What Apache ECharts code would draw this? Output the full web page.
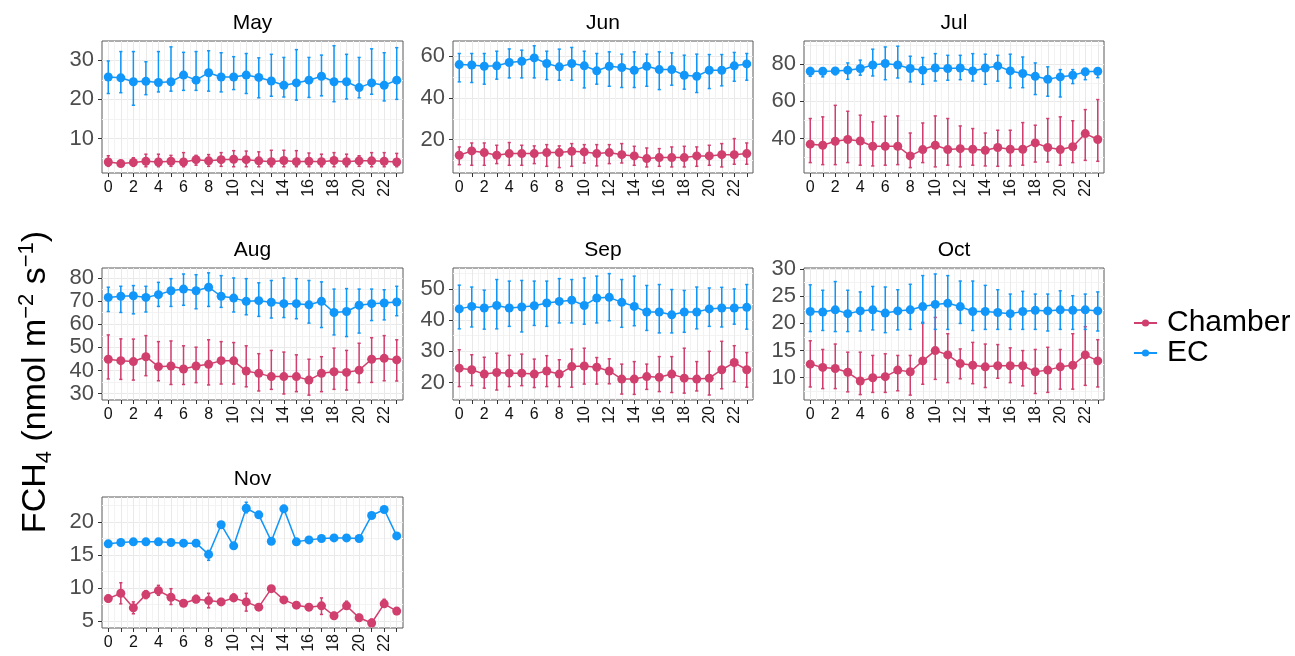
<!DOCTYPE html>
<html>
<head>
<meta charset="utf-8">
<title>FCH4 diel cycle by month</title>
<script src="https://cdn.jsdelivr.net/npm/echarts@6/dist/echarts.min.js"></script>
<style>
  html, body { margin: 0; padding: 0; background: #fff; }
  #chart { width: 1295px; height: 656px; }
</style>
</head>
<body>
<div id="chart"></div>
<script>
// hours of the day and the month panels
const hours = [0,1,2,3,4,5,6,7,8,9,10,11,12,13,14,15,16,17,18,19,20,21,22,23];
const months = ['May','Jun','Jul','Aug','Sep','Oct','Nov'];
const hourLabelsFlat = [0,2,4,6,8];
const hourLabelsTurned = [10,12,14,16,18,20,22];

// y tick labels per panel
const mayTicks = [10,20,30];
const junTicks = [20,40,60];
const julTicks = [40,60,80];
const augTicks = [30,40,50,60,70,80];
const sepTicks = [20,30,40,50];
const octTicks = [10,15,20,25,30];
const novTicks = [5,10,15,20];

// May
const mayChamber   = [4.0,3.6,3.9,4.2,4.0,4.2,4.0,4.6,4.3,4.6,4.7,4.6,4.3,4.1,4.4,4.1,4.2,4.1,4.4,4.1,4.3,4.3,4.2,4.0];
const mayChamberLo = [2.9,3.2,2.9,2.8,2.8,2.9,2.8,3.2,2.9,2.9,2.8,2.8,2.8,2.8,2.8,2.8,2.8,2.8,2.8,2.8,2.9,2.8,2.8,2.8];
const mayChamberHi = [5.6,4.1,5.1,6.0,6.0,5.7,6.4,5.7,5.9,6.4,6.9,6.8,6.6,7.0,7.0,6.9,6.3,6.0,6.4,6.0,5.6,6.4,6.4,6.2];
const mayEC   = [25.7,25.5,24.5,24.6,24.3,24.5,26.2,24.9,26.8,25.7,25.7,26.2,25.6,24.7,23.6,24.2,24.9,25.9,24.5,24.5,23.0,24.2,23.6,24.9];
const mayECLo = [21.5,21.7,18.5,21.2,21.9,22.1,22.3,22.3,22.1,21.9,22.5,21.5,20.4,20.8,20.6,19.8,20.5,20.9,19.4,20.1,20.4,21.3,19.6,20.0];
const mayECHi = [29.8,32.2,32.2,29.6,32.2,33.4,32.0,32.2,32.4,31.9,30.9,31.7,30.6,31.5,30.7,32.7,30.7,31.3,33.7,31.5,30.7,32.9,31.9,33.2];

// Jun
const junChamber   = [12.5,14.6,13.8,12.5,13.3,13.3,13.3,13.8,13.8,14.4,14.1,13.3,13.8,12.8,12.2,10.9,11.4,11.4,11.4,12.2,12.2,12.8,12.8,13.3];
const junChamberLo = [8.0,7.7,7.7,8.5,7.7,7.7,8.5,7.2,6.6,7.2,8.8,7.4,8.5,8.8,7.7,6.9,7.2,6.9,6.9,7.2,7.7,6.9,8.2,8.2];
const junChamberHi = [16.5,18.4,18.4,17.3,18.6,17.3,17.0,17.6,17.0,18.1,17.6,17.6,17.6,18.1,16.8,16.0,15.7,16.5,16.8,16.5,17.3,18.1,20.5,18.4];
const junEC   = [56.0,55.8,55.2,55.4,57.0,57.6,59.2,56.5,54.9,56.5,55.4,53.0,55.2,54.6,53.3,55.2,53.6,53.6,50.9,50.4,53.3,53.3,55.4,56.3];
const junECLo = [47.7,47.4,46.6,49.0,49.6,49.6,49.6,48.8,48.5,48.5,44.8,46.6,45.6,45.0,45.0,45.6,44.0,46.1,44.2,42.6,44.5,45.8,48.0,48.5];
const junECHi = [61.3,61.3,61.3,62.4,63.5,62.9,65.0,62.4,63.4,64.2,62.4,61.3,62.1,61.0,62.1,61.0,62.1,61.6,60.5,61.0,60.8,60.8,61.8,61.3];

// Jul
const julChamber   = [37.0,36.4,38.6,39.5,38.7,35.9,35.9,35.9,30.7,34.1,36.4,34.1,34.6,34.3,33.7,35.2,34.3,34.3,37.7,35.2,34.1,35.6,42.7,39.5];
const julChamberLo = [27.1,26.0,26.0,27.1,25.7,25.3,25.7,26.0,24.4,27.1,24.8,25.7,24.8,25.7,25.3,25.1,25.3,25.7,27.4,27.4,25.7,27.1,28.3,27.8];
const julChamberHi = [50.8,51.7,57.9,54.7,52.6,49.0,52.0,52.2,43.0,48.4,52.2,50.8,46.8,45.4,43.0,44.5,44.5,48.6,47.2,50.8,51.7,49.6,55.6,61.0];
const julEC   = [76.2,76.2,76.4,76.8,77.7,79.6,80.4,79.6,77.7,76.8,78.0,77.7,78.0,76.4,78.0,79.1,76.4,75.0,73.5,71.9,73.2,74.1,75.9,76.2];
const julECLo = [73.5,73.2,74.4,71.9,74.1,73.7,71.7,72.6,70.5,69.2,71.0,71.4,71.7,71.0,69.2,70.9,67.3,67.4,63.7,62.8,62.4,69.6,71.7,72.8];
const julECHi = [78.2,77.7,78.0,80.7,82.2,88.1,89.3,89.7,84.3,83.6,85.7,84.8,84.8,85.7,85.4,84.8,85.4,83.9,80.7,78.6,77.1,77.1,77.3,77.7];

// Aug
const augChamber   = [44.9,44.3,43.9,46.0,41.7,42.0,40.7,42.0,42.7,44.3,44.2,39.8,38.8,37.4,37.4,37.4,35.9,38.8,39.5,39.2,40.2,44.9,45.3,44.6];
const augChamberLo = [36.4,36.2,35.9,37.8,35.6,34.0,34.0,34.8,33.8,34.2,34.2,33.0,31.2,31.9,29.9,30.9,29.4,30.9,31.9,31.6,34.8,34.9,35.6,35.5];
const augChamberHi = [55.4,53.7,53.6,55.1,52.5,52.8,50.7,50.1,53.3,52.5,52.1,50.7,47.3,48.7,48.0,46.8,44.9,46.0,49.7,48.7,51.8,54.2,55.1,53.3];
const augEC   = [71.6,72.1,72.3,71.6,72.8,74.5,75.2,74.5,76.0,72.1,71.3,69.9,70.2,69.5,68.9,68.9,68.4,69.9,65.1,65.5,68.2,68.9,69.2,69.6];
const augECLo = [65.5,65.1,64.5,65.3,67.7,67.7,68.2,66.7,67.7,67.3,65.3,64.1,63.4,62.7,62.9,62.4,60.5,58.6,55.4,54.7,56.2,61.6,61.9,63.7];
const augECHi = [76.0,76.4,76.7,76.4,78.1,79.7,81.7,81.4,82.2,81.0,80.0,79.7,77.9,78.9,80.0,79.7,78.9,78.3,75.2,75.4,75.2,75.2,74.9,76.4];

// Sep
const sepChamber   = [24.6,24.1,22.7,23.2,23.0,23.0,22.7,23.7,22.7,25.1,25.3,24.9,23.7,21.1,21.1,21.9,21.7,22.7,21.4,21.1,21.4,24.1,26.4,24.1];
const sepChamberLo = [18.7,19.0,18.2,17.6,18.7,19.0,18.4,18.7,18.7,18.5,19.5,19.5,19.6,16.3,16.2,17.8,17.1,16.8,16.6,17.3,16.0,18.0,20.3,18.5];
const sepChamberHi = [30.5,28.9,28.1,29.4,28.7,29.1,27.5,28.6,27.3,30.7,31.0,28.0,27.6,25.9,26.7,25.9,28.3,28.3,31.0,26.7,30.0,33.2,31.8,29.6];
const sepEC   = [43.6,44.4,43.9,44.7,43.9,44.2,44.6,45.5,46.0,46.4,44.7,47.1,47.3,45.7,44.4,42.6,42.6,41.7,42.6,42.6,43.6,43.9,43.9,44.1];
const sepECLo = [37.2,37.8,37.1,37.2,38.0,36.2,38.3,38.0,39.1,39.1,38.7,39.1,39.8,37.7,38.2,36.7,35.9,35.9,36.1,37.2,38.0,37.8,38.7,37.1];
const sepECHi = [51.2,50.6,49.6,53.0,52.5,52.7,52.5,52.5,53.3,53.0,53.5,54.1,54.9,53.0,54.1,51.1,51.4,49.8,49.5,50.6,50.3,50.5,50.0,51.4];

// Oct
const octChamber   = [12.5,11.9,11.7,11.0,9.4,10.0,10.2,11.4,11.1,13.1,15.0,14.2,12.6,12.3,12.0,12.2,12.2,12.2,11.1,11.4,12.0,12.3,14.2,13.1];
const octChamberLo = [8.3,8.0,8.0,7.4,6.9,7.3,7.3,7.6,6.8,8.8,9.7,9.1,9.8,8.9,8.2,9.9,9.1,8.5,7.1,7.3,7.9,7.9,8.6,8.3];
const octChamberHi = [16.8,15.2,16.2,14.7,14.7,14.1,14.4,14.1,14.1,20.2,21.1,18.1,15.3,16.5,16.2,16.1,15.5,15.0,15.2,15.6,15.2,18.1,19.4,17.0];
const octEC   = [22.2,22.1,22.5,21.8,22.3,22.5,21.9,22.3,22.5,23.1,23.5,23.7,23.1,22.2,22.2,22.0,21.8,22.2,22.4,22.3,22.5,22.4,22.5,22.3];
const octECLo = [18.5,18.7,18.5,18.5,18.6,18.8,18.3,18.8,18.9,20.0,18.9,18.9,20.0,18.7,18.9,18.9,18.9,18.9,18.9,18.6,18.9,18.9,18.9,18.6];
const octECHi = [27.1,26.1,27.7,26.1,25.8,26.8,26.7,26.2,27.2,28.8,29.1,28.8,27.8,27.8,27.0,26.2,25.4,25.9,25.4,25.4,26.0,25.1,25.4,25.8];

// Nov
const novChamber   = [8.4,9.2,7.0,9.0,9.6,8.6,7.7,8.3,8.1,7.9,8.5,7.9,7.1,9.9,8.2,7.4,7.1,7.3,5.8,7.3,5.5,4.7,7.6,6.5];
const novChamberLo = [7.9,7.6,6.1,8.4,8.9,7.5,7.5,7.8,7.0,7.6,8.2,6.5,6.7,9.5,7.7,7.0,6.6,6.0,5.3,6.8,5.0,4.2,7.1,6.0];
const novChamberHi = [8.9,10.8,7.9,9.6,10.4,9.9,8.0,8.9,9.2,8.4,9.1,9.2,7.5,10.3,8.6,7.8,7.6,8.5,6.3,8.0,6.0,5.3,8.3,7.0];
const novEC   = [16.7,16.9,17.0,17.0,17.0,16.9,16.8,16.8,15.1,19.6,16.4,22.1,21.1,17.1,22.0,17.0,17.3,17.5,17.6,17.6,17.5,21.0,21.9,17.9];
const novECLo = [16.5,16.7,16.8,16.8,16.8,16.7,16.6,16.6,14.2,19.4,16.2,21.4,20.9,16.9,21.8,16.8,17.1,17.3,17.4,17.4,17.3,20.8,21.7,17.7];
const novECHi = [16.9,17.1,17.2,17.2,17.2,17.1,17.0,17.0,15.7,19.8,16.6,23.0,21.3,17.3,22.2,17.2,17.5,17.7,17.8,17.8,17.7,21.2,22.1,18.1];

const panels = [
  { ticks: mayTicks, range: [1.2, 34.9], Chamber: [mayChamber, mayChamberLo, mayChamberHi], EC: [mayEC, mayECLo, mayECHi] },
  { ticks: junTicks, range: [4.0, 67.3], Chamber: [junChamber, junChamberLo, junChamberHi], EC: [junEC, junECLo, junECHi] },
  { ticks: julTicks, range: [21.5, 92.5], Chamber: [julChamber, julChamberLo, julChamberHi], EC: [julEC, julECLo, julECHi] },
  { ticks: augTicks, range: [27.3, 84.3], Chamber: [augChamber, augChamberLo, augChamberHi], EC: [augEC, augECLo, augECHi] },
  { ticks: sepTicks, range: [14.4, 56.7], Chamber: [sepChamber, sepChamberLo, sepChamberHi], EC: [sepEC, sepECLo, sepECHi] },
  { ticks: octTicks, range: [5.9, 30.2], Chamber: [octChamber, octChamberLo, octChamberHi], EC: [octEC, octECLo, octECHi] },
  { ticks: novTicks, range: [3.94, 23.8], Chamber: [novChamber, novChamberLo, novChamberHi], EC: [novEC, novECLo, novECHi] }
];

const FONT = '"Liberation Sans", Arial, Helvetica, sans-serif';
const colors = { Chamber: '#D03F6E', EC: '#1196F9' };
const colLeft = [102, 453, 804], colWidth = [301, 300, 300];
const rowTop = [41, 268, 497], rowHeight = [132, 132, 131];
const halfHours = hours.slice(0, 23).map(h => h + 0.5);

function errorBar(color) {
  return function (params, api) {
    const x = api.value(0);
    const top = api.coord([x, api.value(2)]);
    const bot = api.coord([x, api.value(1)]);
    const hw = 1.6;
    const st = { stroke: color, lineWidth: 1.5 };
    return {
      type: 'group',
      children: [
        { type: 'line', shape: { x1: top[0], y1: top[1], x2: bot[0], y2: bot[1] }, style: st },
        { type: 'line', shape: { x1: top[0] - hw, y1: top[1], x2: top[0] + hw, y2: top[1] }, style: st },
        { type: 'line', shape: { x1: bot[0] - hw, y1: bot[1], x2: bot[0] + hw, y2: bot[1] }, style: st }
      ]
    };
  };
}

const grids = [], xAxes = [], yAxes = [], series = [], graphics = [];

panels.forEach((p, i) => {
  const c = i % 3, r = Math.floor(i / 3);
  const left = colLeft[c], top = rowTop[r], width = colWidth[c], height = rowHeight[r];
  grids.push({ left, top, width, height, show: true, backgroundColor: '#fff',
    borderColor: '#5a5a5a', borderWidth: 1, containLabel: false, outerBoundsMode: 'none' });

  const xBase = { type: 'value', gridIndex: i, position: 'bottom', min: -0.5, max: 23.5,
    axisLine: { show: false, onZero: false }, axisTick: { show: false },
    axisLabel: { show: false }, splitLine: { show: false } };
  // half-hour minor grid
  xAxes.push(Object.assign({}, xBase, {
    axisTick: { show: false, customValues: halfHours },
    splitLine: { show: true, lineStyle: { color: '#f3f3f3', width: 1 } }
  }));
  // hourly ticks, major grid, upright labels
  xAxes.push(Object.assign({}, xBase, {
    axisTick: { show: true, customValues: hours, length: 4, lineStyle: { color: '#333', width: 1 } },
    splitLine: { show: true, lineStyle: { color: '#e9e9e9', width: 1 } },
    axisLabel: { show: true, customValues: hourLabelsFlat, fontSize: 16, color: '#111', margin: 7, fontFamily: FONT }
  }));
  // two-digit labels turned
  xAxes.push(Object.assign({}, xBase, {
    axisLabel: { show: true, customValues: hourLabelsTurned, rotate: 90, fontSize: 16, color: '#111', margin: 6, fontFamily: FONT }
  }));

  const step = p.ticks[1] - p.ticks[0];
  const minors = [p.ticks[0] - step / 2].concat(p.ticks.map(t => t + step / 2))
    .filter(v => v > p.range[0] && v < p.range[1]);
  const yBase = { type: 'value', gridIndex: i, position: 'left', min: p.range[0], max: p.range[1],
    axisLine: { show: false, onZero: false } };
  yAxes.push(Object.assign({}, yBase, {
    axisTick: { show: false, customValues: minors }, axisLabel: { show: false },
    splitLine: { show: true, lineStyle: { color: '#f3f3f3', width: 1 } }
  }));
  yAxes.push(Object.assign({}, yBase, {
    axisTick: { show: true, customValues: p.ticks, length: 4, lineStyle: { color: '#333', width: 1 } },
    axisLabel: { show: true, customValues: p.ticks, fontSize: 22, color: '#4d4d4d', margin: 8, fontFamily: FONT },
    splitLine: { show: true, lineStyle: { color: '#e9e9e9', width: 1 } }
  }));

  ['Chamber', 'EC'].forEach(name => {
    const [mean, lo, hi] = p[name];
    series.push({
      type: 'custom', name: name + ' sd', xAxisIndex: 3 * i + 1, yAxisIndex: 2 * i + 1,
      silent: true, z: 2, encode: { x: 0, y: [1, 2] },
      data: hours.map((h, k) => [h, lo[k], hi[k]]),
      renderItem: errorBar(colors[name])
    });
    series.push({
      type: 'line', name, xAxisIndex: 3 * i + 1, yAxisIndex: 2 * i + 1, z: 3,
      data: hours.map((h, k) => [h, mean[k]]),
      symbol: 'circle', symbolSize: 9, showSymbol: true,
      itemStyle: { color: colors[name] },
      lineStyle: { color: colors[name], width: 1.5 },
      emphasis: { disabled: true }
    });
  });

  graphics.push({ type: 'text', x: left + width / 2, y: top - 17.5, silent: true,
    style: { text: months[i], fontSize: 21, fontFamily: FONT, fill: '#000', align: 'center', verticalAlign: 'middle' } });
});

graphics.push({
  type: 'text', x: 36, y: 382, rotation: Math.PI / 2, silent: true,
  style: {
    text: 'FCH{sub|4} (nmol m{sup|\u22122} s{sup|\u22121})',
    fontSize: 34, fontFamily: FONT, fill: '#000', align: 'center', verticalAlign: 'middle', lineHeight: 40,
    rich: {
      sub: { fontSize: 22, fontFamily: FONT, fill: '#000', verticalAlign: 'bottom', lineHeight: 22 },
      sup: { fontSize: 22, fontFamily: FONT, fill: '#000', verticalAlign: 'top', lineHeight: 22 }
    }
  }
});

const option = {
  animation: false,
  backgroundColor: '#fff',
  legend: {
    data: ['Chamber', 'EC'], orient: 'vertical', left: 1133, top: 308, padding: 0,
    itemWidth: 23, itemHeight: 9, itemGap: 0,
    textStyle: { fontSize: 30, lineHeight: 28, color: '#000', fontFamily: FONT, padding: [0, 0, 0, 5] }
  },
  grid: grids,
  xAxis: xAxes,
  yAxis: yAxes,
  series: series,
  graphic: graphics
};

const myChart = echarts.init(document.getElementById('chart'));
myChart.setOption(option);
</script>
</body>
</html>
